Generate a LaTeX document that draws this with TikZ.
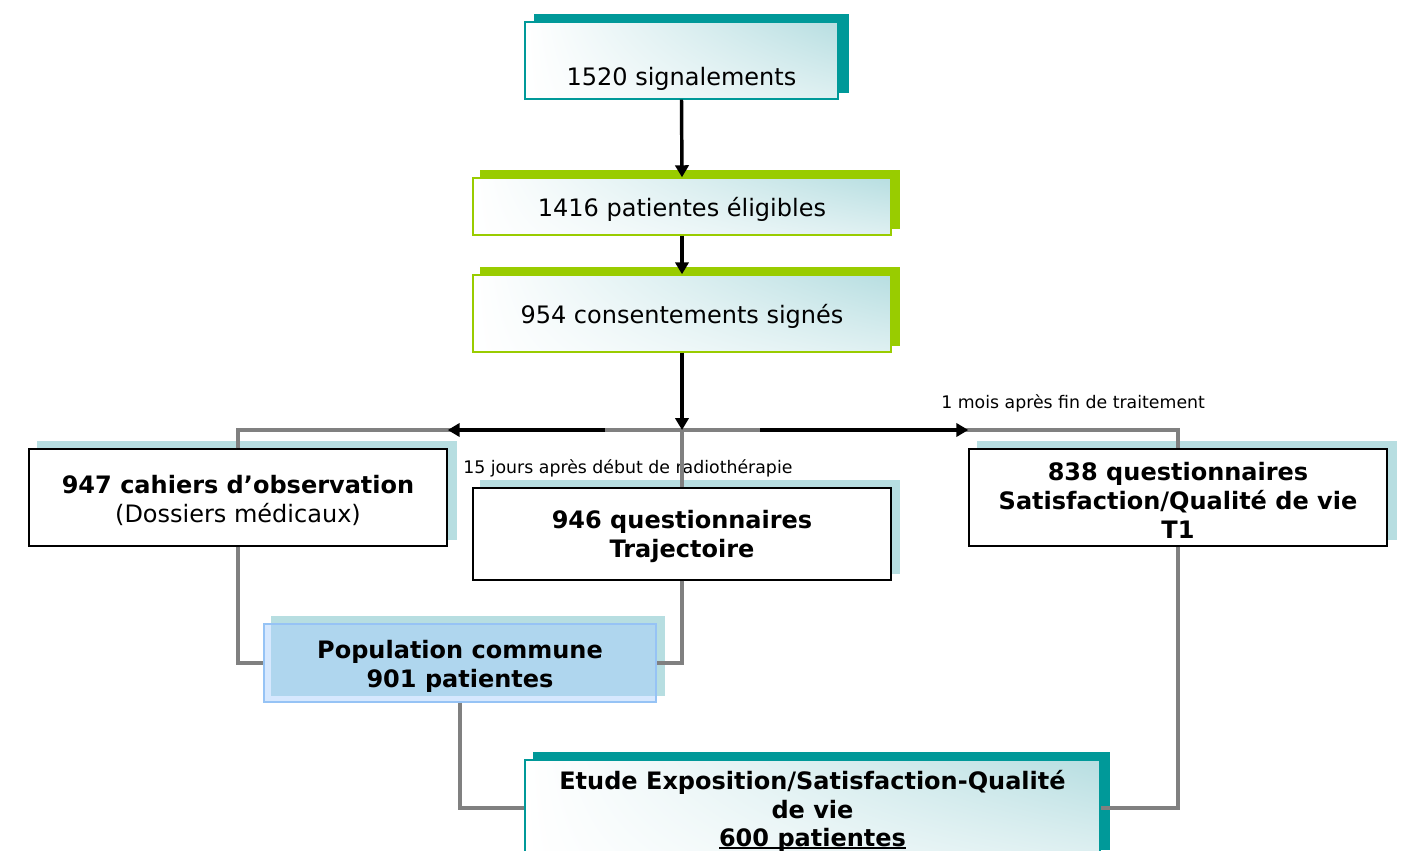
\documentclass[tikz,border=0pt]{standalone}
\usepackage{fontspec}
\setmainfont{DejaVu Sans}
\usetikzlibrary{arrows.meta,backgrounds,shadings}
\definecolor{tealD}{RGB}{0,153,153}
\definecolor{greenD}{RGB}{153,204,0}
\definecolor{tealL}{RGB}{183,222,225}
\definecolor{grayL}{RGB}{128,128,128}
\definecolor{blueP}{RGB}{168,206,253}
\definecolor{blueB}{RGB}{150,195,245}
\newcommand\topgap{\rule{0pt}{18pt}}
\newcommand\undl[1]{\setbox0\hbox{#1}\rlap{\rule[-1.6pt]{\wd0}{1.1pt}}\box0}
\tikzset{
  wh/.style 2 args={minimum width=#1*.75pt, minimum height=#2*.75pt},
  box/.style={draw, line width=1.1pt, align=center, inner sep=0pt,
    font=\fontsize{18}{21.75}\selectfont},
  grad/.style={shade, upper left=white, lower left=white,
    upper right=tealL, lower right=tealL!45},
  link/.style={draw=grayL, line width=3pt},
  flow/.style={->, line width=2.6pt},
  note/.style={font=\fontsize{13}{15}\selectfont, anchor=west, inner sep=0pt}
}
\begin{document}
\begin{tikzpicture}[x=.75pt, y=-.75pt, >={Triangle[length=9pt,width=10pt]}]
  \useasboundingbox (0,0) rectangle (1407,850);
  % top chain
  \node[box, grad, draw=tealD, wh={313}{77}, text height=38pt, text depth=0pt] (sig) at (681.5,60.5) {1520 signalements};
  \node[box, grad, draw=greenD, wh={418}{57}] (elig) at (682,206.5) {\topgap 1416 patientes éligibles};
  \node[box, grad, draw=greenD, wh={418}{77}] (cons) at (682,313.5) {\topgap 954 consentements signés};
  % three branches
  \node[box, fill=white, wh={418}{97}] (cahiers) at (238,497.5) {\topgap\textbf{947 cahiers d’observation}\\(Dossiers médicaux)};
  \node[box, fill=white, wh={418}{92}, font=\fontsize{18}{21.75}\selectfont\bfseries] (traj) at (682,534) {\topgap 946 questionnaires\\Trajectoire};
  \node[box, fill=white, wh={418}{97}, font=\fontsize{18}{21.75}\selectfont\bfseries] (satis) at (1178,497.5) {\topgap 838 questionnaires\\Satisfaction/Qualité de vie\\T1};
  \node[box, draw=blueB, fill=blueP, fill opacity=.47, text opacity=1, wh={392}{78}, font=\fontsize{18}{21.75}\selectfont\bfseries] (pop) at (460,663) {\topgap Population commune\\901 patientes};
  \node[box, grad, draw=tealD, wh={575}{96}, font=\fontsize{18}{21.4}\selectfont\bfseries] (etude) at (812.5,808) {\rule{0pt}{19pt}Etude Exposition/Satisfaction-Qualité\\de vie\\\undl{600 patientes}};
  % shadows
  \begin{scope}[on background layer]
    \foreach \n/\c/\dx in {sig/tealD/10, elig/greenD/8, cons/greenD/8, cahiers/tealL/9,
      traj/tealL/8, satis/tealL/9, pop/tealL/8, etude/tealD/9}
      \fill[\c] ([shift={(\dx,-7)}]\n.south west) rectangle ([shift={(\dx,-7)}]\n.north east);
  \end{scope}
  \node[note] (lbljours) at (463,468) {15 jours après début de radiothérapie};
  \node[note] (lblmois) at (941,403) {1 mois après fin de traitement};
  % connectors
  \coordinate (split) at (682,430);
  \coordinate (la) at (605,430);
  \coordinate (ra) at (760,430);
  \draw[link] (cahiers.north) |- (split) -| (satis.north);
  \draw[link] (split) -- (traj.north);
  \draw[link] (cahiers.south) |- (pop.west);
  \draw[link] (traj.south) |- (pop.east);
  \draw[link] (pop.south) |- (etude.west);
  \draw[link] (satis.south) |- (etude.east);
  \draw[flow] (sig.south) -- (elig.north);
  \draw[flow] (elig.south) -- (cons.north);
  \draw[flow] (cons.south) -- (split);
  \draw[flow] (la) -- (cahiers.east |- split);
  \draw[flow] (ra) -- (satis.west |- split);
\end{tikzpicture}
\end{document}
